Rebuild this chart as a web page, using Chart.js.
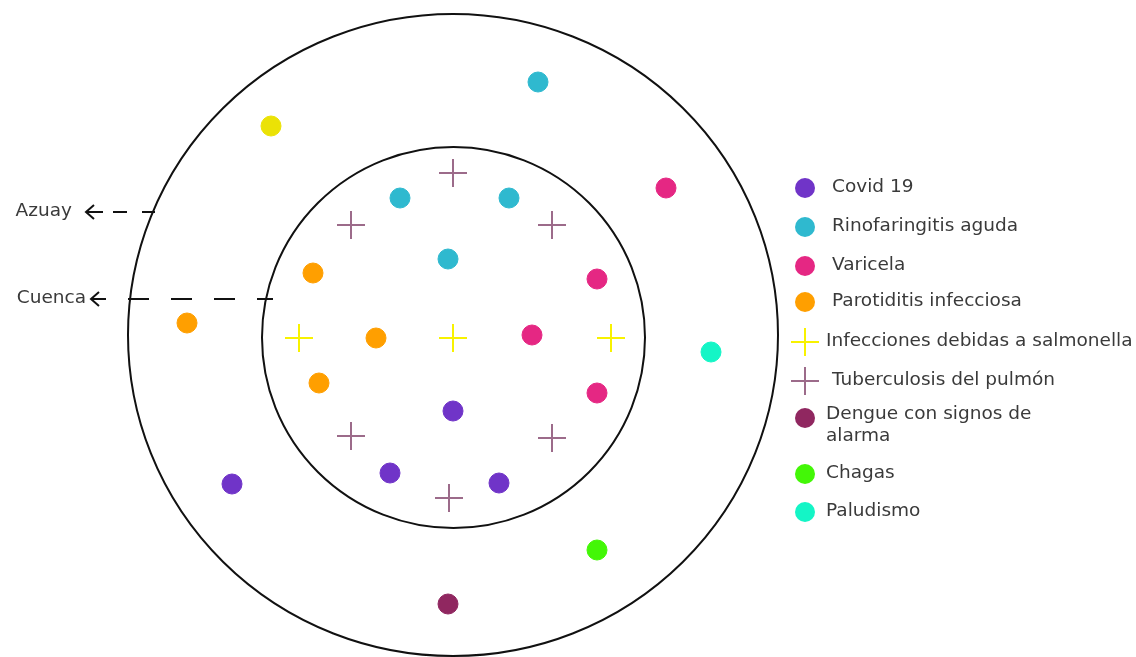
<!DOCTYPE html>
<html>
<head>
<meta charset="utf-8">
<script src="https://cdn.jsdelivr.net/npm/chart.js@4.4.0/dist/chart.umd.min.js"></script>
<style>
    html, body { margin: 0; padding: 0; background: #ffffff; }
    #wrap { width: 1136px; height: 657px; position: relative; }
</style>
</head>
<body>
<div id="wrap"><canvas id="diagram" width="1136" height="657"></canvas></div>
<script>
// Rings (Azuay outside, Cuenca inside), in diagram units
const ringNames = ['Azuay', 'Cuenca'];
const ringCx = [453, 453.5];
const ringCy = [335, 337.5];
const ringRx = [325, 191.5];
const ringRy = [321, 190.5];
const ringLabelY = [212, 299];

// Diseases, one point per case location
const diseases = [
    'Covid 19',
    'Rinofaringitis aguda',
    'Varicela',
    'Parotiditis infecciosa',
    'Infecciones debidas a salmonella',
    'Tuberculosis del pulmón',
    'Dengue con signos de\nalarma',
    'Chagas',
    'Paludismo'
];
const covidX = [453, 390, 499, 232];
const covidY = [411, 473, 483, 484];
const rinoX = [400, 509, 448, 538];
const rinoY = [198, 198, 259, 82];
const varicelaX = [597, 532, 597, 666];
const varicelaY = [279, 335, 393, 188];
const parotiditisX = [313, 376, 319, 187];
const parotiditisY = [273, 338, 383, 323];
const salmonellaX = [299, 453, 611];
const salmonellaY = [338, 338, 338];
const tuberculosisX = [453, 351, 552, 351, 552, 449];
const tuberculosisY = [173, 225, 225, 436, 438, 498];
const dengueX = [448];
const dengueY = [604];
const chagasX = [597];
const chagasY = [550];
const paludismoX = [711];
const paludismoY = [352];
// yellow dot without a legend entry
const otherX = [271];
const otherY = [126];

const colors = ['#7034c8', '#2fb9cf', '#e52783', '#ff9f00', '#f8f200', '#9c6b8a', '#902760', '#43f707', '#14f5c6'];
const styles = ['circle', 'circle', 'circle', 'circle', 'cross', 'cross', 'circle', 'circle', 'circle'];

const xs = [covidX, rinoX, varicelaX, parotiditisX, salmonellaX, tuberculosisX, dengueX, chagasX, paludismoX];
const ys = [covidY, rinoY, varicelaY, parotiditisY, salmonellaY, tuberculosisY, dengueY, chagasY, paludismoY];

function toPoints(xArr, yArr) {
    return xArr.map((x, i) => ({ x: x, y: yArr[i] }));
}

const datasets = diseases.map((name, i) => ({
    label: name,
    data: toPoints(xs[i], ys[i]),
    pointStyle: styles[i],
    pointRadius: styles[i] === 'cross' ? 14 : 10,
    backgroundColor: colors[i],
    borderColor: colors[i],
    borderWidth: styles[i] === 'cross' ? 2 : 1,
    showLine: false,
    clip: false
}));

datasets.push({
    label: 'otro',
    data: toPoints(otherX, otherY),
    pointStyle: 'circle',
    pointRadius: 10,
    backgroundColor: '#ebe206',
    borderColor: '#ebe206',
    borderWidth: 1,
    showLine: false,
    clip: false
});

const TEXT_FONT = '18.5px "DejaVu Sans", sans-serif';
const TEXT_COLOR = '#3a3a3a';

// Draw both rings behind the points
const ringsPlugin = {
    id: 'rings',
    beforeDatasetsDraw(chart) {
        const { ctx, scales } = chart;
        const sx = scales.x, sy = scales.y;
        ctx.save();
        ctx.strokeStyle = '#111111';
        ctx.lineWidth = 2;
        ringNames.forEach((name, i) => {
            const cx = sx.getPixelForValue(ringCx[i]);
            const cy = sy.getPixelForValue(ringCy[i]);
            const rx = Math.abs(sx.getPixelForValue(ringCx[i] + ringRx[i]) - cx);
            const ry = Math.abs(sy.getPixelForValue(ringCy[i] + ringRy[i]) - cy);
            ctx.beginPath();
            ctx.ellipse(cx, cy, rx, ry, 0, 0, Math.PI * 2);
            ctx.stroke();
        });
        ctx.restore();
    }
};

// Ring labels with dashed arrows on the left
const ringLabelPlugin = {
    id: 'ringLabels',
    afterDatasetsDraw(chart) {
        const { ctx, scales } = chart;
        const sy = scales.y;
        // layout: text right edge, arrow tip, shaft end, dash start, dash end, dash pattern
        const layout = [
            { textRight: 72, tip: 86, shaft: 103, from: 113, to: 155, dash: [14, 15] },
            { textRight: 86, tip: 91, shaft: 106, from: 128, to: 273, dash: [21, 22] }
        ];
        ctx.save();
        ringNames.forEach((name, i) => {
            const y = sy.getPixelForValue(ringLabelY[i]);
            const l = layout[i];
            ctx.font = TEXT_FONT;
            ctx.fillStyle = TEXT_COLOR;
            ctx.textAlign = 'right';
            ctx.textBaseline = 'middle';
            ctx.fillText(name, l.textRight, y - 1);

            ctx.strokeStyle = '#111111';
            ctx.lineWidth = 2;
            ctx.setLineDash([]);
            ctx.beginPath();
            ctx.moveTo(l.tip + 8, y - 7);
            ctx.lineTo(l.tip, y);
            ctx.lineTo(l.tip + 8, y + 7);
            ctx.moveTo(l.tip, y);
            ctx.lineTo(l.shaft, y);
            ctx.stroke();

            ctx.setLineDash(l.dash);
            ctx.beginPath();
            ctx.moveTo(l.from, y);
            ctx.lineTo(l.to, y);
            ctx.stroke();
        });
        ctx.restore();
    }
};

// Legend drawn by hand: rows are not evenly spaced in the original
const legendPlugin = {
    id: 'sideLegend',
    afterDraw(chart) {
        const { ctx } = chart;
        const markX = 805;
        const rowY = [188, 227, 266, 302, 342, 381, 418, 474, 512];
        const textX = [832, 832, 832, 832, 826, 832, 826, 826, 826];
        const textDy = [0, 0, 0, 0, 0, 0, -3, 0, 0];
        ctx.save();
        diseases.forEach((name, i) => {
            const ds = chart.data.datasets[i];
            const y = rowY[i];
            if (ds.pointStyle === 'cross') {
                ctx.strokeStyle = ds.borderColor;
                ctx.lineWidth = 2;
                ctx.beginPath();
                ctx.moveTo(markX - 14, y);
                ctx.lineTo(markX + 14, y);
                ctx.moveTo(markX, y - 14);
                ctx.lineTo(markX, y + 14);
                ctx.stroke();
            } else {
                ctx.fillStyle = ds.backgroundColor;
                ctx.beginPath();
                ctx.arc(markX, y, 10, 0, Math.PI * 2);
                ctx.fill();
            }
            ctx.font = TEXT_FONT;
            ctx.fillStyle = TEXT_COLOR;
            ctx.textAlign = 'left';
            ctx.textBaseline = 'middle';
            name.split('\n').forEach((line, k) => {
                ctx.fillText(line, textX[i], y + textDy[i] + k * 22 - 1);
            });
        });
        ctx.restore();
    }
};

new Chart(document.getElementById('diagram'), {
    type: 'scatter',
    data: { datasets: datasets },
    options: {
        responsive: false,
        animation: false,
        layout: { padding: 0, autoPadding: false },
        scales: {
            x: { type: 'linear', min: 0, max: 1136, display: false },
            y: { type: 'linear', min: 0, max: 657, reverse: true, display: false }
        },
        plugins: {
            legend: { display: false },
            tooltip: { enabled: false }
        }
    },
    plugins: [ringsPlugin, ringLabelPlugin, legendPlugin]
});
</script>
</body>
</html>
